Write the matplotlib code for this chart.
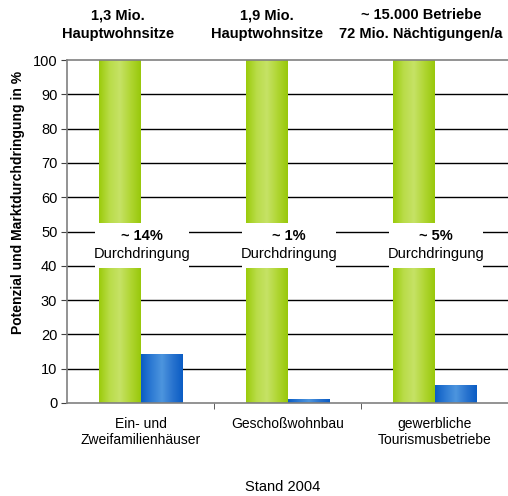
import numpy as np
import matplotlib.pyplot as plt
from matplotlib.colors import LinearSegmentedColormap
from matplotlib.patches import Rectangle

plt.rcParams['font.family'] = ['Liberation Sans', 'DejaVu Sans']

categories = ['Ein- und\nZweifamilienhäuser', 'Geschoßwohnbau', 'gewerbliche\nTourismusbetriebe']
potenzial = [100, 100, 100]
durchdringung = [14, 1, 5]
durchdringung_labels = ['~ 14%', '~ 1%', '~ 5%']
kopf_labels = ['1,3 Mio.\nHauptwohnsitze', '1,9 Mio.\nHauptwohnsitze',
               '~ 15.000 Betriebe\n72 Mio. Nächtigungen/a']
kopf_versatz = [-0.01, 0.0, 0.05]
y_ticks = list(range(0, 101, 10))

green_cmap = LinearSegmentedColormap.from_list(
    'gruen', ['#9acb0a', '#b9dc48', '#c6e266', '#b0d633', '#98c80a'])
blue_cmap = LinearSegmentedColormap.from_list(
    'blau', ['#0a5cc4', '#2e7bd4', '#4d95de', '#2a74cf', '#0a5cc4'])


def gradient_bars(ax, bars, cmap):
    # Balken mit horizontalem Farbverlauf füllen
    grad = np.linspace(0, 1, 256).reshape(1, -1)
    for b in bars:
        x0, y0 = b.get_x(), b.get_y()
        w, h = b.get_width(), b.get_height()
        b.set_facecolor('none')
        b.set_edgecolor('none')
        ax.imshow(grad, cmap=cmap, aspect='auto', extent=(x0, x0 + w, y0, y0 + h),
                  zorder=2, interpolation='bicubic')


fig = plt.figure(figsize=(5.08, 4.96), dpi=100)
ax = fig.add_axes([0.132, 0.1875, 0.868, 0.6915])

x = np.arange(len(categories))
w = 0.284
g = ax.bar(x - w / 2, potenzial, w, zorder=2)
b = ax.bar(x + w / 2, durchdringung, w, zorder=2)
gradient_bars(ax, g, green_cmap)
gradient_bars(ax, b, blue_cmap)

ax.set_xlim(-0.5, 2.5)
ax.set_ylim(0, 100)
ax.set_yticks(y_ticks)
ax.set_xticks(x)
ax.set_xticklabels(categories, fontsize=10)
ax.set_xticks([0.5, 1.5], minor=True)
ax.tick_params(axis='x', which='major', length=0, pad=10)
ax.tick_params(axis='x', which='minor', length=4, color='#404040')
ax.tick_params(axis='y', length=4, labelsize=10.5, color='#404040', pad=3)

for yv in y_ticks[1:-1]:
    ax.axhline(yv, color='black', lw=1, zorder=1)

ax.spines['right'].set_visible(False)
for s in ['left', 'bottom', 'top']:
    ax.spines[s].set_color('#808080')
    ax.spines[s].set_linewidth(1.2)

# Durchdringung als Beschriftung mit weißem Kasten
for xi, lab in zip(x, durchdringung_labels):
    ax.add_patch(Rectangle((xi + 0.01 - 0.323, 39.3), 0.646, 13.2,
                           facecolor='white', edgecolor='none', zorder=3))
    ax.text(xi + 0.01, 48.6, lab, ha='center', va='center', fontsize=10.5,
            fontweight='bold', zorder=5)
    ax.text(xi + 0.01, 43.3, 'Durchdringung', ha='center', va='center',
            fontsize=10.5, zorder=5)

for xi, dx, lab in zip(x - w / 2, kopf_versatz, kopf_labels):
    ax.text(xi + dx, 105.5, lab, ha='center', va='bottom', fontsize=10.5,
            fontweight='bold', linespacing=1.45, clip_on=False)

ax.set_ylabel('Potenzial und Marktdurchdringung in %', fontsize=10,
              fontweight='bold')
ax.yaxis.set_label_coords(-0.095, 0.585)
fig.text(0.557, 0.005, 'Stand 2004', ha='center', va='bottom', fontsize=10.5)

fig.savefig('out.png', dpi=100)
